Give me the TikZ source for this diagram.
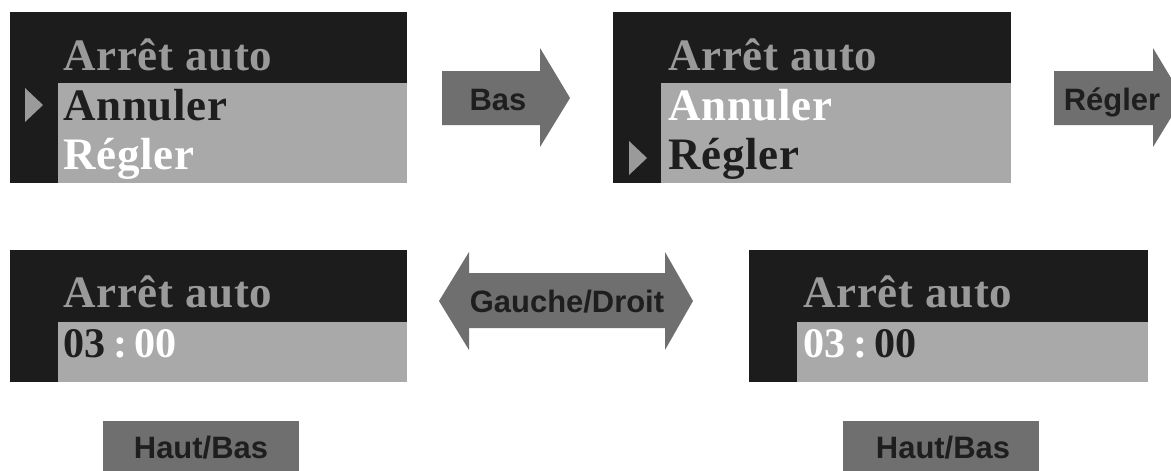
\documentclass[tikz,border=0pt]{standalone}
\usepackage{fontspec}
\setmainfont{Liberation Serif}
\newfontfamily\lcdfont[LetterSpace=1.5]{Liberation Serif}
\newfontfamily\keyfont{Liberation Sans}
\usepackage{xcolor}
\usepackage{tikz}
\usetikzlibrary{positioning}

\definecolor{lcddark}{HTML}{1C1C1C}
\definecolor{lcdlight}{HTML}{A9A9A9}
\definecolor{lcdtitle}{HTML}{9A9A9A}
\definecolor{keygray}{HTML}{6F6F6F}
\definecolor{keytext}{HTML}{1E1E1E}

\tikzset{
  lcd/.style={font=\lcdfont\bfseries\fontsize{32}{32}\selectfont, anchor=base west, inner sep=0pt},
  lcdtime/.style={lcd, font=\lcdfont\bfseries\fontsize{30}{30}\selectfont},
  key/.style={font=\keyfont\bfseries\fontsize{22}{22}\selectfont, text=keytext, anchor=base, inner sep=0pt},
}

\begin{document}
\begin{tikzpicture}[x=0.025cm,y=-0.025cm]
    \clip (0,0) rectangle (1171,470);
    \fill[white] (0,0) rectangle (1171,470);
    % Screen 1: Annuler selected
    \fill[lcddark] (10,12) rectangle (407,183);
    \fill[lcdlight] (58,83) rectangle (407,183);
    \fill[lcdtitle] (25,88) -- (43,105) -- (25,122) -- cycle;
    \node[lcd,text=lcdtitle] (title1) at (63,70) {Arrêt auto};
    \node[lcd,text=keytext] (cancel1) at (63,120) {Annuler};
    \node[lcd,text=white] (set1) at (63,169) {Régler};
    % Key: Bas
    \fill[keygray] (442,71) -- (540,71) -- (540,48) -- (570,98) -- (540,147) -- (540,125) -- (442,125) -- cycle;
    \node[key] (down) at (498,110) {Bas};
    % Screen 2: Régler selected
    \fill[lcddark] (613,12) rectangle (1011,183);
    \fill[lcdlight] (661,83) rectangle (1011,183);
    \fill[lcdtitle] (629,141) -- (647,158) -- (629,175) -- cycle;
    \node[lcd,text=lcdtitle] (title2) at (668,70) {Arrêt auto};
    \node[lcd,text=white] (cancel2) at (668,120) {Annuler};
    \node[lcd,text=keytext] (set2) at (668,169) {Régler};
    % Key: Régler
    \fill[keygray] (1054,71) -- (1153,71) -- (1153,48) -- (1183,98) -- (1153,147) -- (1153,125) -- (1054,125) -- cycle;
    \node[key] (setkey) at (1112,110) {Régler};
    % Screen 3: hours
    \fill[lcddark] (10,250) rectangle (407,382);
    \fill[lcdlight] (58,322) rectangle (407,382);
    \node[lcd,text=lcdtitle] (title3) at (63,307) {Arrêt auto};
    \node[lcdtime,text=keytext] (time3) at (63,357) {03\,{\color{white}:\,00}};
    % Key: Gauche/Droit
    \fill[keygray] (439,301) -- (469,252) -- (469,273) -- (665,273) -- (665,252) -- (693,301)
        -- (665,350) -- (665,328) -- (469,328) -- (469,350) -- cycle;
    \node[key] (leftright) at (567,312) {Gauche/Droit};
    % Screen 4: minutes
    \fill[lcddark] (749,250) rectangle (1148,382);
    \fill[lcdlight] (797,322) rectangle (1148,382);
    \node[lcd,text=lcdtitle] (title4) at (803,307) {Arrêt auto};
    \node[lcdtime,text=white] (time4) at (803,357) {03\,:\,{\color{keytext}00}};
    % Keys: Haut/Bas
    \fill[keygray] (103,421) rectangle (299,480);
    \node[key] (updown1) at (201,458) {Haut/Bas};
    \fill[keygray] (843,421) rectangle (1039,480);
    \node[key] (updown2) at (943,458) {Haut/Bas};
\end{tikzpicture}
\end{document}
